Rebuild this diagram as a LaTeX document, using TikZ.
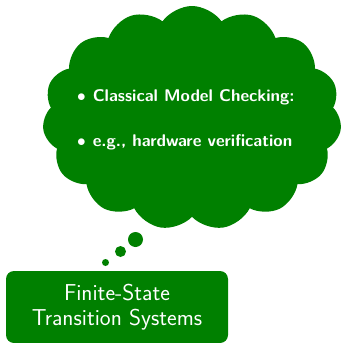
\documentclass[tikz,border=0pt]{standalone}
\usetikzlibrary{shapes.symbols}
\definecolor{cgreen}{RGB}{0,128,0}
\begin{document}
\begin{tikzpicture}[x=1pt,y=-1pt,
  gfill/.style={fill=cgreen,draw=none},
  bul/.style={anchor=base west,text=white,inner sep=0,font=\sffamily\bfseries\fontsize{16.9}{20}\selectfont},
  boxtext/.style={text=white,align=center,font=\sffamily\fontsize{23}{25.5}\selectfont}]
\useasboundingbox (0,0) rectangle (341,343);
\node[cloud,cloud puffs=15,cloud puff arc=110,gfill,minimum width=299pt,minimum height=224pt,inner sep=0] (cloud) at (192,118) {};
\node[bul] (b1) at (77,101) {$\bullet$\hspace{7pt}Classical Model Checking:};
\node[bul] (b2) at (77,146) {$\bullet$\hspace{7pt}e.g., hardware verification};
\fill[cgreen] (135.5,239.5) circle (7.5);
\fill[cgreen] (120.5,251.5) circle (5.5);
\fill[cgreen] (105.5,262.5) circle (3.5);
\draw[gfill,rounded corners=8pt] (6,271) rectangle (228,343);
\node[boxtext] (fsts) at (117,307) {Finite-State\\Transition Systems};
\end{tikzpicture}
\end{document}
